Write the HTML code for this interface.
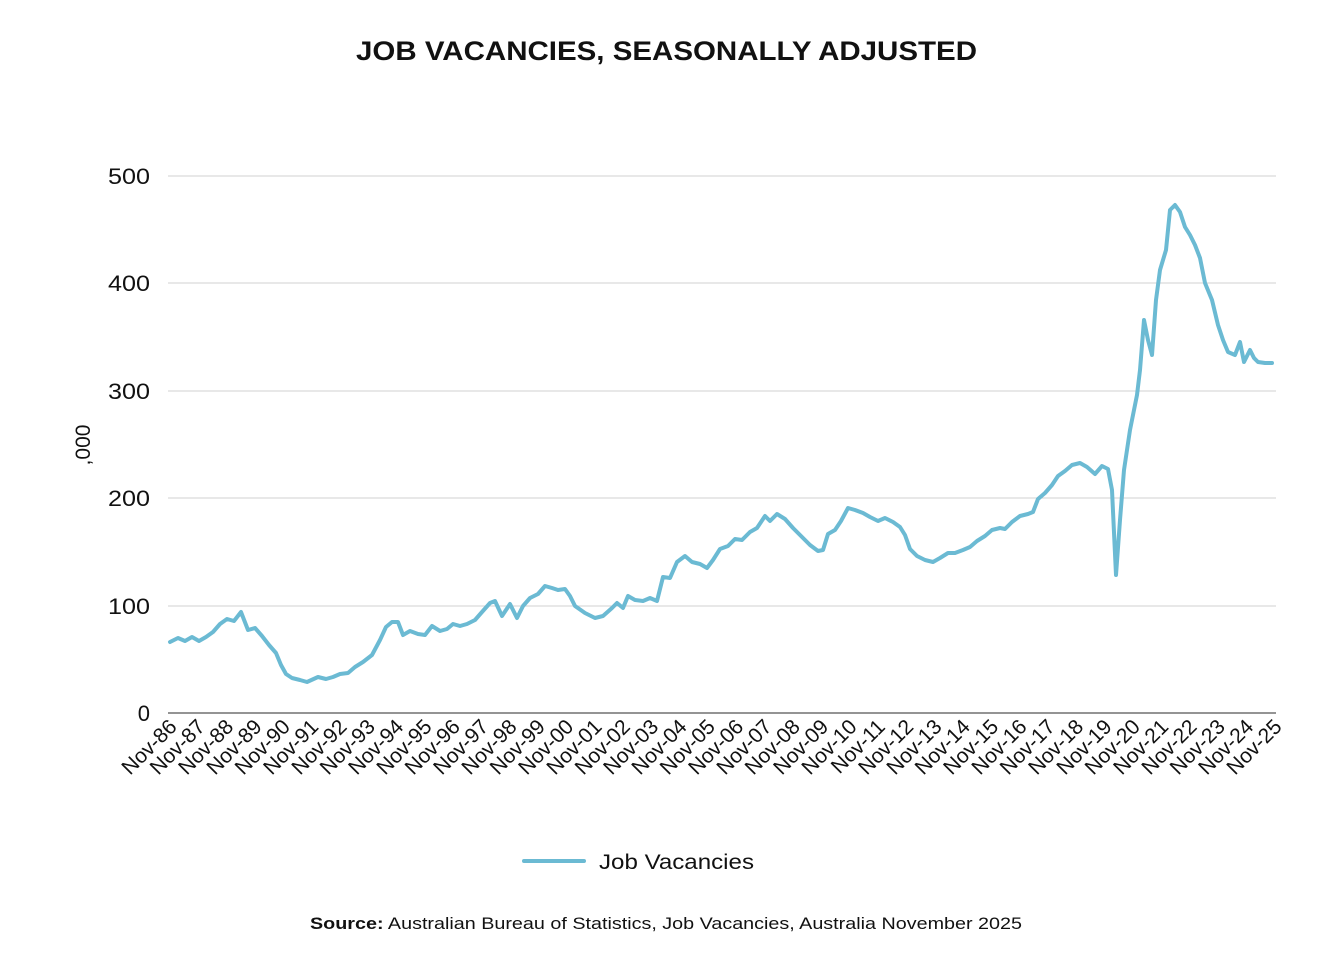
<!DOCTYPE html>
<html><head><meta charset="utf-8"><style>
body{margin:0;background:#fff;}
svg text{font-family:"Liberation Sans",sans-serif;fill:#111;}
</style></head><body>
<svg width="1328" height="972" viewBox="0 0 1328 972" xmlns="http://www.w3.org/2000/svg">
<text x="356" y="60" font-size="27" font-weight="bold" textLength="621" lengthAdjust="spacingAndGlyphs">JOB VACANCIES, SEASONALLY ADJUSTED</text>
<g stroke="#d0d0d0" stroke-width="1">
<line x1="168" y1="176" x2="1276" y2="176"/>
<line x1="168" y1="283" x2="1276" y2="283"/>
<line x1="168" y1="391" x2="1276" y2="391"/>
<line x1="168" y1="498" x2="1276" y2="498"/>
<line x1="168" y1="606" x2="1276" y2="606"/>
</g>
<line x1="168" y1="713" x2="1276" y2="713" stroke="#555" stroke-width="1.2"/>
<g font-size="22" text-anchor="end">
<text x="150" y="184" textLength="42" lengthAdjust="spacingAndGlyphs">500</text>
<text x="150" y="291" textLength="42" lengthAdjust="spacingAndGlyphs">400</text>
<text x="150" y="399" textLength="42" lengthAdjust="spacingAndGlyphs">300</text>
<text x="150" y="506" textLength="42" lengthAdjust="spacingAndGlyphs">200</text>
<text x="150" y="614" textLength="42" lengthAdjust="spacingAndGlyphs">100</text>
<text x="150" y="721">0</text>
</g>
<text transform="translate(90,445) rotate(-90)" text-anchor="middle" font-size="21">,000</text>
<polyline fill="none" stroke="#6bbad3" stroke-width="4" stroke-linejoin="round" stroke-linecap="round" points="170,642 178,638 185,641 192,637 199,641 206,637 213,632 220,624 227,619 234,621 241,612 248,630 255,628 262,636 269,645 276,653 281,665 286,674 292,678 300,680 307,682 318,677 326,679 333,677 340,674 348,673 355,667 363,662 372,655 380,640 386,627 392,622 398,622 403,635 410,631 418,634 425,635 432,626 440,631 447,629 453,624 460,626 467,624 475,620 482,612 490,603 495,601 502,616 510,604 517,618 523,606 530,598 538,594 545,586 552,588 558,590 565,589 570,596 575,606 585,613 595,618 603,616 612,608 617,603 623,608 628,596 635,600 643,601 650,598 657,601 663,577 670,578 677,562 685,556 692,562 700,564 707,568 713,560 720,549 728,546 735,539 742,540 750,532 757,528 765,516 770,521 777,514 785,519 793,528 802,537 810,545 818,551 823,550 828,534 835,530 841,521 848,508 855,510 863,513 870,517 878,521 885,518 893,522 900,527 905,535 910,549 917,556 925,560 933,562 940,558 948,553 955,553 963,550 970,547 977,541 985,536 992,530 1000,528 1005,529 1012,522 1020,516 1028,514 1033,512 1038,499 1045,493 1052,485 1058,476 1065,471 1072,465 1080,463 1087,467 1095,474 1102,466 1108,469 1112,490 1116,575 1120,520 1124,470 1130,430 1137,395 1140,370 1144,320 1148,340 1152,355 1156,300 1160,270 1166,250 1170,210 1175,205 1180,212 1185,227 1190,235 1195,245 1200,258 1205,283 1212,300 1218,325 1223,340 1228,352 1235,355 1240,342 1244,362 1250,350 1254,358 1258,362 1265,363 1272,363"/>
<g font-size="21" text-anchor="end">
<text transform="translate(178,728) rotate(-45)">Nov-86</text>
<text transform="translate(206.3,728) rotate(-45)">Nov-87</text>
<text transform="translate(234.7,728) rotate(-45)">Nov-88</text>
<text transform="translate(263,728) rotate(-45)">Nov-89</text>
<text transform="translate(291.3,728) rotate(-45)">Nov-90</text>
<text transform="translate(319.7,728) rotate(-45)">Nov-91</text>
<text transform="translate(348,728) rotate(-45)">Nov-92</text>
<text transform="translate(376.3,728) rotate(-45)">Nov-93</text>
<text transform="translate(404.7,728) rotate(-45)">Nov-94</text>
<text transform="translate(433,728) rotate(-45)">Nov-95</text>
<text transform="translate(461.3,728) rotate(-45)">Nov-96</text>
<text transform="translate(489.7,728) rotate(-45)">Nov-97</text>
<text transform="translate(518,728) rotate(-45)">Nov-98</text>
<text transform="translate(546.3,728) rotate(-45)">Nov-99</text>
<text transform="translate(574.7,728) rotate(-45)">Nov-00</text>
<text transform="translate(603,728) rotate(-45)">Nov-01</text>
<text transform="translate(631.3,728) rotate(-45)">Nov-02</text>
<text transform="translate(659.7,728) rotate(-45)">Nov-03</text>
<text transform="translate(688,728) rotate(-45)">Nov-04</text>
<text transform="translate(716.3,728) rotate(-45)">Nov-05</text>
<text transform="translate(744.7,728) rotate(-45)">Nov-06</text>
<text transform="translate(773,728) rotate(-45)">Nov-07</text>
<text transform="translate(801.3,728) rotate(-45)">Nov-08</text>
<text transform="translate(829.7,728) rotate(-45)">Nov-09</text>
<text transform="translate(858,728) rotate(-45)">Nov-10</text>
<text transform="translate(886.3,728) rotate(-45)">Nov-11</text>
<text transform="translate(914.7,728) rotate(-45)">Nov-12</text>
<text transform="translate(943,728) rotate(-45)">Nov-13</text>
<text transform="translate(971.3,728) rotate(-45)">Nov-14</text>
<text transform="translate(999.7,728) rotate(-45)">Nov-15</text>
<text transform="translate(1028,728) rotate(-45)">Nov-16</text>
<text transform="translate(1056.3,728) rotate(-45)">Nov-17</text>
<text transform="translate(1084.7,728) rotate(-45)">Nov-18</text>
<text transform="translate(1113,728) rotate(-45)">Nov-19</text>
<text transform="translate(1141.3,728) rotate(-45)">Nov-20</text>
<text transform="translate(1169.7,728) rotate(-45)">Nov-21</text>
<text transform="translate(1198,728) rotate(-45)">Nov-22</text>
<text transform="translate(1226.3,728) rotate(-45)">Nov-23</text>
<text transform="translate(1254.7,728) rotate(-45)">Nov-24</text>
<text transform="translate(1283,728) rotate(-45)">Nov-25</text>
</g>
<line x1="524" y1="861" x2="584" y2="861" stroke="#6bbad3" stroke-width="4" stroke-linecap="round"/>
<text x="599" y="869" font-size="21" textLength="155" lengthAdjust="spacingAndGlyphs">Job Vacancies</text>
<text x="310" y="929" font-size="17" textLength="712" lengthAdjust="spacingAndGlyphs"><tspan font-weight="bold">Source:</tspan> Australian Bureau of Statistics, Job Vacancies, Australia November 2025</text>
</svg>
</body></html>
